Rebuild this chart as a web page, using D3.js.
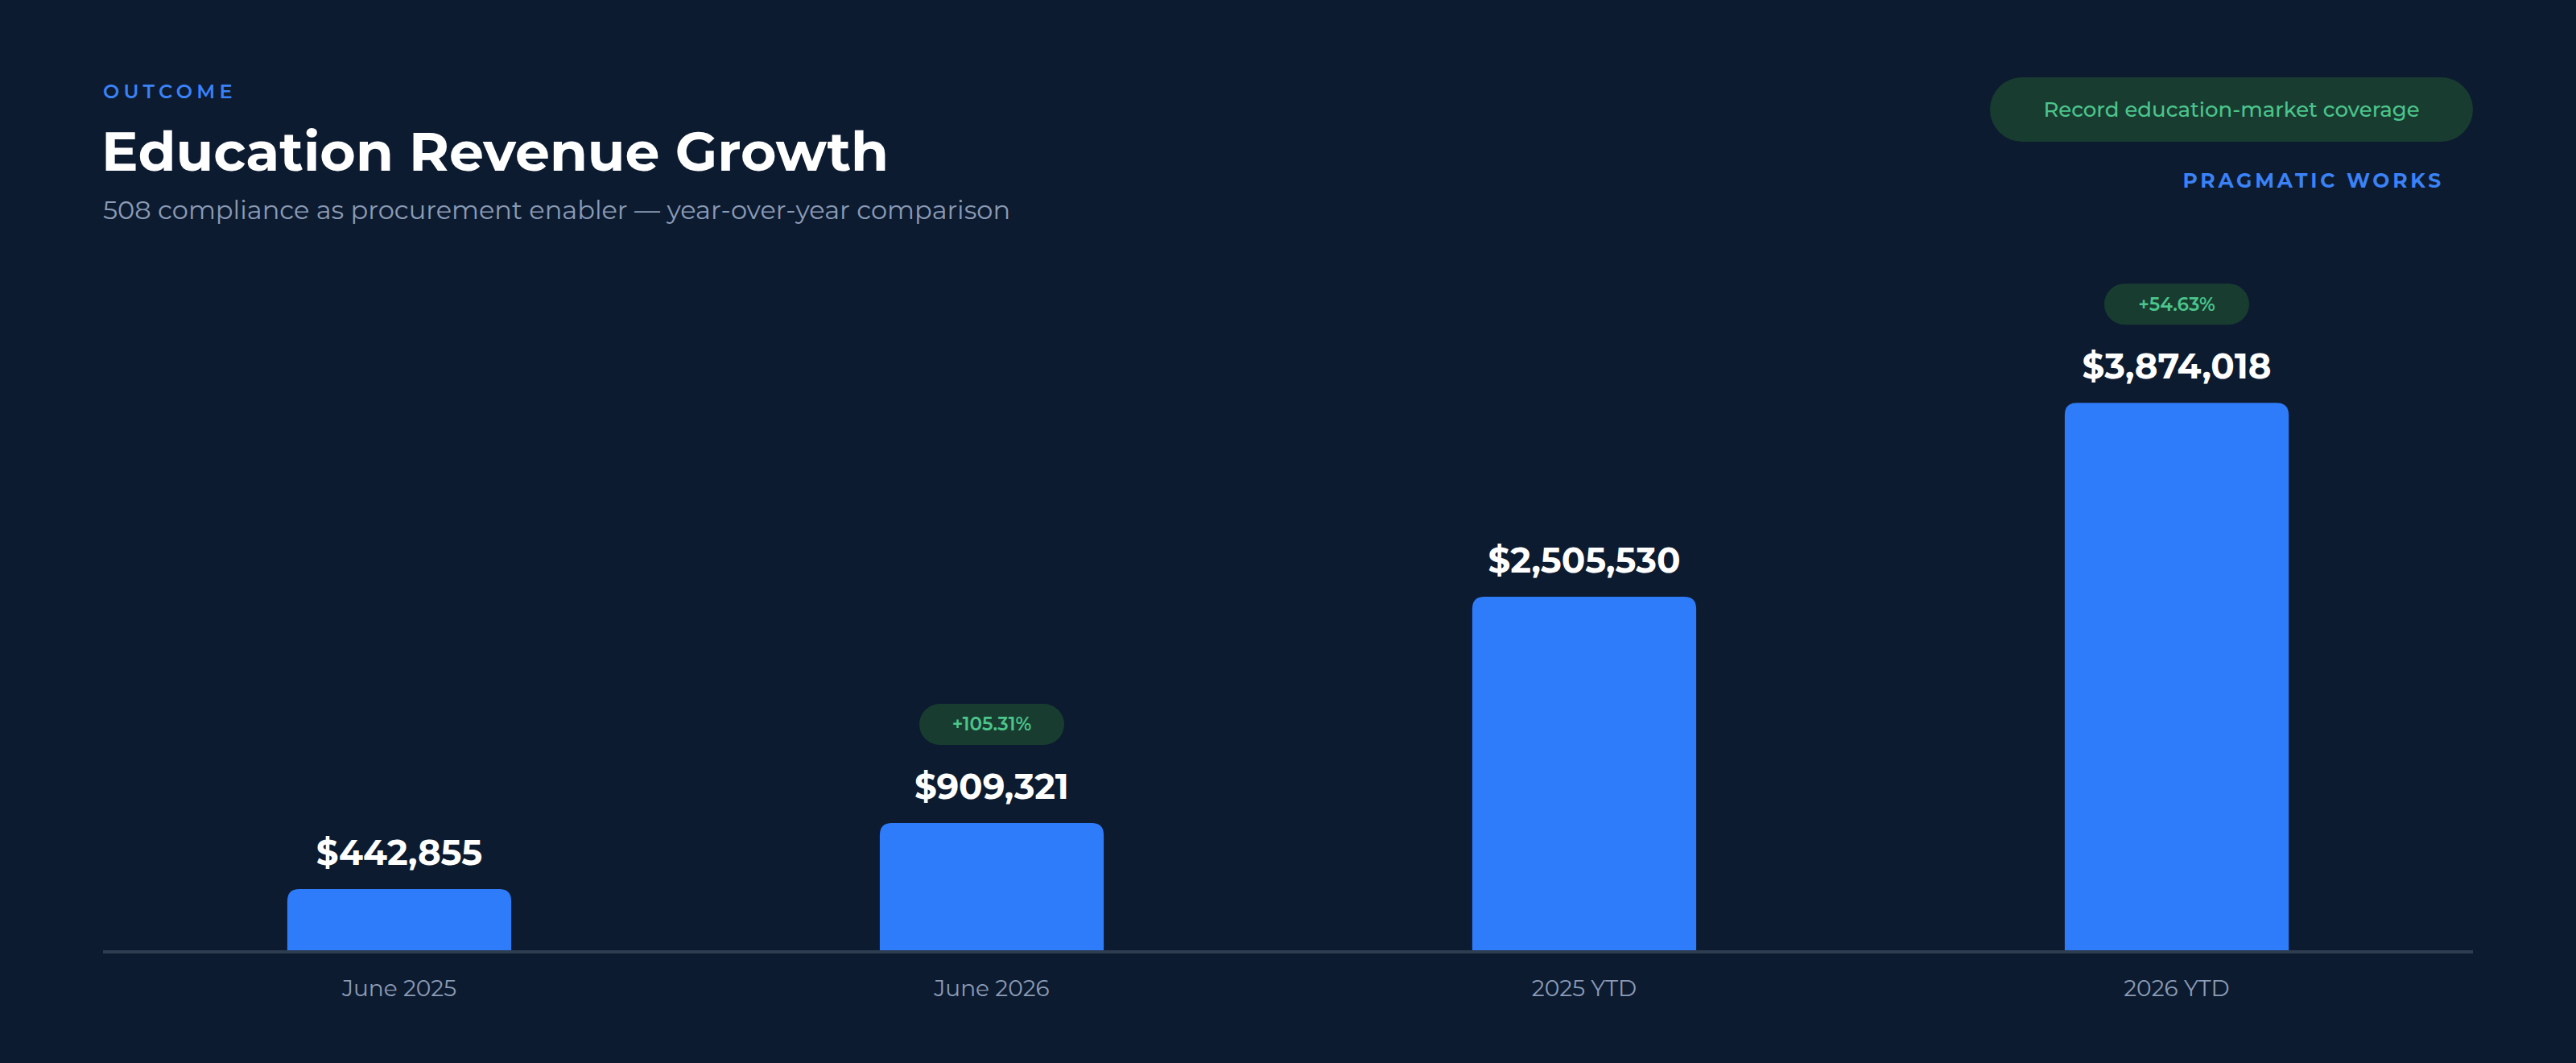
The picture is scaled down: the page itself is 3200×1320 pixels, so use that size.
<!DOCTYPE html>
<html>
<head>
<meta charset="utf-8">
<script src="https://cdn.jsdelivr.net/npm/d3@7"></script>
<style>
  html, body { margin: 0; padding: 0; background: #0d1b30; }
  svg { display: block; font-family: Montserrat, Inter, "Open Sans", sans-serif; }
  .kicker { fill: #3a82f6; font-size: 24px; font-weight: 600; letter-spacing: 5.3px; }
  .title { fill: #ffffff; font-size: 68px; font-weight: 700; }
  .subtitle { fill: #8b9bb6; font-size: 32px; font-weight: 400; }
  .note-bg { fill: #183d30; }
  .note { fill: #4cc48c; font-size: 26px; font-weight: 500; }
  .brand { fill: #3a82f6; font-size: 25px; font-weight: 700; letter-spacing: 3.8px; }
  .bar { fill: #2f7cfb; }
  .value { fill: #ffffff; font-size: 43.5px; font-weight: 700; }
  .badge-bg { fill: #183d30; }
  .badge { fill: #4cc48c; font-size: 23px; font-weight: 600; }
  .axis-label { fill: #8b9bb6; font-size: 28px; font-weight: 400; }
  .baseline { stroke: #2e3d50; stroke-width: 4; }
</style>
</head>
<body>
<div id="chart"></div>
<script>
const categories = ["June 2025", "June 2026", "2025 YTD", "2026 YTD"]
const revenue = [442855, 909321, 2505530, 3874018]
const growth = [null, "+105.31%", null, "+54.63%"]

const w = 3200,
    h = 1320,
    margin = {top: 434, right: 128, bottom: 138, left: 128},
    x = d3.scaleBand()
      .domain(categories)
      .range([margin.left, w - margin.right])
      .paddingInner(0.622)
      .paddingOuter(0.311),
    y = d3.scaleLinear()
      .domain([0, 4250000])
      .range([h - margin.bottom, margin.top])

const fmt = d3.format("$,")

const svg = d3.select("#chart").append("svg")
  .attr("width", w)
  .attr("height", h)

// header
svg.append("text").attr("class", "kicker").attr("x", 128).attr("y", 122).text("OUTCOME")
svg.append("text").attr("class", "title").attr("x", 126).attr("y", 212).text("Education Revenue Growth")
svg.append("text").attr("class", "subtitle").attr("x", 128).attr("y", 272)
  .text("508 compliance as procurement enabler \u2014 year-over-year comparison")

svg.append("rect").attr("class", "note-bg")
  .attr("x", 2472).attr("y", 96).attr("width", 600).attr("height", 80).attr("rx", 40)
svg.append("text").attr("class", "note")
  .attr("x", 2772).attr("y", 145).attr("text-anchor", "middle")
  .text("Record education-market coverage")
svg.append("text").attr("class", "brand")
  .attr("x", 3036).attr("y", 233).attr("text-anchor", "end")
  .text("PRAGMATIC WORKS")

// bars: rounded top corners only
const r = 15
const barPath = (d, i) => {
  const x0 = x(categories[i]), x1 = x0 + x.bandwidth(),
        y0 = y(0), y1 = y(d)
  return `M${x0},${y0}V${y1 + r}Q${x0},${y1} ${x0 + r},${y1}H${x1 - r}Q${x1},${y1} ${x1},${y1 + r}V${y0}Z`
}

svg.append("g").selectAll("path")
  .data(revenue)
  .join("path")
    .attr("class", "bar")
    .attr("d", barPath)

svg.append("line")
  .attr("class", "baseline")
  .attr("x1", margin.left).attr("x2", w - margin.right)
  .attr("y1", y(0)).attr("y2", y(0))

const cx = (i) => x(categories[i]) + x.bandwidth() / 2

svg.append("g").selectAll("text")
  .data(revenue)
  .join("text")
    .attr("class", "value")
    .attr("x", (d, i) => cx(i))
    .attr("y", d => y(d) - 30)
    .attr("text-anchor", "middle")
    .text(d => fmt(d))

// growth badges
const badges = growth.map((g, i) => ({g, i})).filter(d => d.g)
const bg = svg.append("g").selectAll("g")
  .data(badges)
  .join("g")
    .attr("transform", d => `translate(${cx(d.i)}, ${y(revenue[d.i]) - 148})`)
bg.append("rect")
  .attr("class", "badge-bg")
  .attr("x", -90).attr("y", 0).attr("width", 180).attr("height", 51).attr("rx", 25.5)
bg.append("text")
  .attr("class", "badge")
  .attr("y", 33.5)
  .attr("text-anchor", "middle")
  .text(d => d.g)

// category labels
svg.append("g").selectAll("text")
  .data(categories)
  .join("text")
    .attr("class", "axis-label")
    .attr("x", (d, i) => cx(i))
    .attr("y", 1237)
    .attr("text-anchor", "middle")
    .text(d => d)
</script>
</body>
</html>
